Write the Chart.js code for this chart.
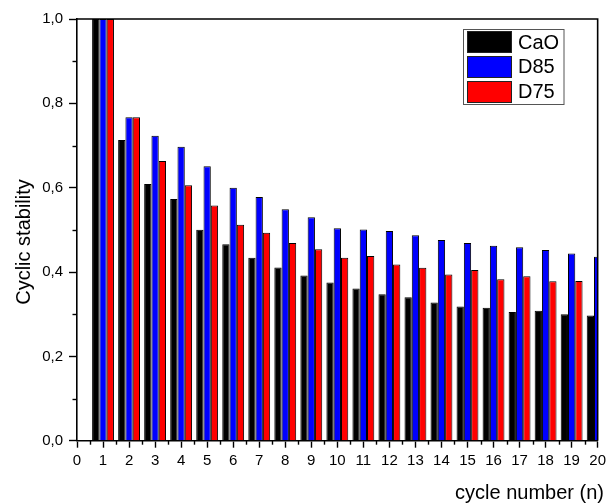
<!DOCTYPE html>
<html>
<head>
<meta charset="utf-8">
<script src="https://cdn.jsdelivr.net/npm/chart.js@4.4.1/dist/chart.umd.min.js"></script>
<style>
  html, body { margin: 0; padding: 0; background: #fff; }
  #wrap { width: 610px; height: 504px; position: relative; }
</style>
</head>
<body>
<div id="wrap"><canvas id="c" width="610" height="504"></canvas></div>
<script>
// Cycle numbers shown on the x axis (0 is an empty slot at the axis origin)
const cycleLabels = ['0','1','2','3','4','5','6','7','8','9','10','11','12','13','14','15','16','17','18','19','20'];

// Cyclic stability per cycle for each sorbent
const caoValues = [null, 1.0, 0.713, 0.609, 0.573, 0.500, 0.466, 0.434, 0.411, 0.392, 0.375, 0.361, 0.347, 0.340, 0.328, 0.318, 0.315, 0.305, 0.308, 0.300, 0.297];
const d85Values = [null, 1.0, 0.767, 0.723, 0.697, 0.651, 0.600, 0.578, 0.549, 0.530, 0.504, 0.501, 0.497, 0.487, 0.476, 0.469, 0.462, 0.459, 0.452, 0.444, 0.436];
const d75Values = [null, 1.0, 0.767, 0.663, 0.606, 0.558, 0.512, 0.493, 0.469, 0.454, 0.434, 0.438, 0.418, 0.410, 0.394, 0.405, 0.383, 0.390, 0.378, 0.379, 0.375];

const seriesNames = ['CaO', 'D85', 'D75'];
const seriesColors = ['#000000', '#0000ff', '#ff0000'];

const FONT = "'Liberation Sans', Arial, sans-serif";

// Minor ticks, closed frame, axis titles and the boxed legend
const decorations = {
  id: 'decorations',
  afterDraw(chart) {
    const { ctx, chartArea: a, scales: { x, y } } = chart;
    ctx.save();
    ctx.strokeStyle = '#000';
    ctx.lineWidth = 1.4;
    // minor x ticks halfway between cycles
    for (let i = 0; i < cycleLabels.length - 1; i++) {
      const px = Math.round(x.getPixelForValue(i + 0.5)) + 0.5;
      ctx.beginPath();
      ctx.moveTo(px, a.bottom);
      ctx.lineTo(px, a.bottom + 4);
      ctx.stroke();
    }
    // minor y ticks between the labelled values
    for (let v = 0.1; v < 1; v += 0.2) {
      const py = Math.round(y.getPixelForValue(v)) + 0.5;
      ctx.beginPath();
      ctx.moveTo(a.left, py);
      ctx.lineTo(a.left - 4.5, py);
      ctx.stroke();
    }
    // top and right frame lines
    ctx.lineWidth = 1.6;
    ctx.beginPath();
    ctx.moveTo(a.left, a.top);
    ctx.lineTo(a.right, a.top);
    ctx.lineTo(a.right, a.bottom);
    ctx.stroke();

    // axis titles
    ctx.fillStyle = '#000';
    ctx.font = '20px ' + FONT;
    ctx.textAlign = 'right';
    ctx.textBaseline = 'alphabetic';
    ctx.fillText('cycle number (n)', 604, 498.5);
    ctx.save();
    ctx.translate(29.5, 242);
    ctx.rotate(-Math.PI / 2);
    ctx.textAlign = 'center';
    ctx.fillText('Cyclic stability', 0, 0);
    ctx.restore();

    // legend box
    const lx = 463.5, ly = 29.5, lw = 100.5, lh = 75;
    ctx.fillStyle = '#fff';
    ctx.fillRect(lx, ly, lw, lh);
    ctx.strokeStyle = '#555';
    ctx.lineWidth = 1;
    ctx.strokeRect(lx, ly, lw, lh);
    ctx.textAlign = 'left';
    seriesNames.forEach((name, i) => {
      const sy = 31 + i * 25;
      ctx.fillStyle = seriesColors[i];
      ctx.fillRect(467, sy, 45, 22);
      ctx.strokeStyle = '#222';
      ctx.strokeRect(467.5, sy + 0.5, 44, 21);
      ctx.fillStyle = '#000';
      ctx.fillText(name, 518, 48.5 + i * 24.6);
    });
    ctx.restore();
  }
};

const datasets = [caoValues, d85Values, d75Values].map((vals, i) => ({
  label: seriesNames[i],
  data: vals,
  backgroundColor: seriesColors[i],
  borderColor: '#000',
  borderWidth: 1,
  borderSkipped: 'bottom',
  barPercentage: 1,
  categoryPercentage: 0.84,
  clip: 0
}));

new Chart(document.getElementById('c'), {
  type: 'bar',
  data: { labels: cycleLabels, datasets },
  options: {
    responsive: false,
    animation: false,
    devicePixelRatio: 1,
    layout: { padding: { top: 19, right: 9.5, bottom: 0, left: 0 } },
    plugins: { legend: { display: false }, tooltip: { enabled: false } },
    scales: {
      x: {
        type: 'category',
        offset: false,
        afterFit(s) { s.height = 63.3; },
        grid: {
          offset: false,
          drawOnChartArea: false,
          drawTicks: true,
          tickLength: 7,
          tickWidth: 1.4,
          tickColor: '#000'
        },
        border: { display: true, color: '#000', width: 1.6 },
        ticks: {
          color: '#000',
          font: { family: FONT, size: 15 },
          padding: 4,
          maxRotation: 0,
          autoSkip: false
        }
      },
      y: {
        min: 0,
        max: 1,
        afterFit(s) { s.width = 77; },
        grid: {
          drawOnChartArea: false,
          drawTicks: true,
          tickLength: 8,
          tickWidth: 1.4,
          tickColor: '#000'
        },
        border: { display: true, color: '#000', width: 1.6 },
        ticks: {
          stepSize: 0.2,
          color: '#000',
          font: { family: FONT, size: 15 },
          padding: 6,
          callback: v => v.toFixed(1).replace('.', ',')
        }
      }
    }
  },
  plugins: [decorations]
});
</script>
</body>
</html>
